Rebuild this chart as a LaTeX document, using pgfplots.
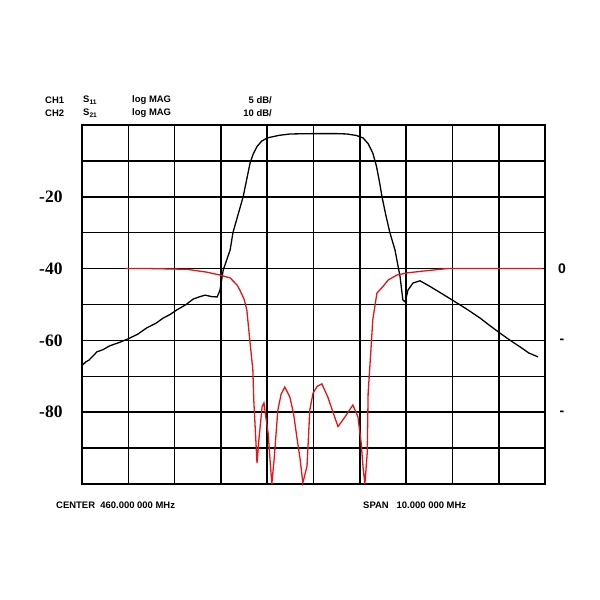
\documentclass[border=0pt]{standalone}
\usepackage{fontspec}
\setmainfont{Liberation Sans}
\newfontfamily\serifb{Liberation Serif}
\usepackage{pgfplots}
\pgfplotsset{compat=1.18}
\definecolor{trred}{RGB}{230,20,20}
\begin{document}
\begin{tikzpicture}
\useasboundingbox (-82bp,-116bp) rectangle (518bp,484bp);
\begin{axis}[
  at={(0,0)}, anchor=south west,
  scale only axis, width=463bp, height=359bp,
  xmin=0, xmax=10, ymin=-100, ymax=0,
  xtick={0,1,...,10}, ytick={-100,-90,...,0},
  xticklabels={},
  yticklabels={,,-80,,-60,,-40,,-20,,},
  yticklabel style={font=\serifb\bfseries\fontsize{17.5}{17.5}\selectfont, xshift=-16bp},
  major tick length=0pt,
  grid=major,
  major grid style={black, line width=1.6pt},
  axis line style={black, line width=1.6pt},
  clip=false,
]
\addplot[black, line width=1.3pt] coordinates {
(0.00,-67.0) (0.08,-66.0) (0.15,-65.5) (0.25,-64.2) (0.32,-63.2) (0.45,-62.6) (0.60,-61.5) (0.80,-60.6) (0.99,-59.6)
(1.20,-58.3) (1.40,-56.5) (1.60,-55.2) (1.75,-53.8) (1.90,-52.8) (2.05,-51.5) (2.25,-50.0)
(2.40,-48.5) (2.55,-47.8) (2.66,-47.4) (2.80,-47.8) (2.92,-47.9) (2.98,-46.0) (3.05,-40.4)
(3.20,-34.8) (3.26,-30.0) (3.37,-25.0) (3.48,-20.0) (3.56,-15.0) (3.63,-10.6) (3.70,-8.0) (3.78,-6.0)
(3.88,-4.5) (4.00,-3.6) (4.25,-2.9) (4.49,-2.5) (5.00,-2.4) (5.50,-2.4) (5.72,-2.5) (5.92,-2.9)
(6.07,-3.6) (6.18,-5.2) (6.28,-7.8) (6.36,-11.5) (6.42,-15.5) (6.48,-20.0) (6.56,-25.0) (6.65,-30.0)
(6.76,-34.8) (6.87,-42.3) (6.93,-48.7) (6.98,-49.3) (7.04,-46.0) (7.15,-44.0) (7.30,-43.4)
(7.52,-45.0) (7.75,-46.8) (7.99,-48.7) (8.30,-51.2) (8.60,-53.8) (8.80,-55.8) (9.03,-58.0)
(9.25,-60.0) (9.46,-61.8) (9.65,-63.5) (9.85,-64.6)
};
\addplot[trred, line width=1.3pt] coordinates {
(0.93,-40.0) (1.50,-40.0) (2.27,-40.2) (2.70,-41.0) (2.98,-41.8) (3.20,-42.6) (3.35,-44.6)
(3.41,-46.0) (3.50,-48.5) (3.56,-51.5) (3.63,-60.7) (3.69,-68.2) (3.71,-76.6) (3.78,-94.2)
(3.82,-87.7) (3.89,-78.5) (3.93,-77.4) (3.97,-81.3) (4.02,-85.8) (4.06,-93.0) (4.10,-100.0)
(4.15,-93.0) (4.23,-79.4) (4.30,-75.0) (4.38,-73.0) (4.49,-75.8) (4.57,-80.5) (4.64,-86.9)
(4.71,-93.0) (4.77,-99.7) (4.86,-95.0) (4.92,-79.4) (4.99,-74.7) (5.08,-72.8) (5.18,-72.1)
(5.31,-75.8) (5.42,-80.0) (5.53,-84.0) (5.68,-81.3) (5.85,-78.0) (5.96,-81.3) (6.03,-88.6)
(6.07,-95.3) (6.11,-100.0) (6.16,-91.4) (6.18,-74.7) (6.24,-62.7) (6.28,-54.3) (6.37,-46.8)
(6.50,-45.0) (6.61,-43.2) (6.80,-41.8) (7.02,-41.2) (7.36,-40.7) (7.88,-40.0) (9.96,-40.0)
};
\end{axis}
\tikzset{hdr/.style={font=\bfseries\fontsize{9.5}{9.5}\selectfont, inner sep=0pt}}
\node[hdr, anchor=west] at (-37bp,384bp) {CH1};
\node[hdr, anchor=west] at (-37bp,371bp) {CH2};
\node[hdr, anchor=west] at (1bp,384bp) {S\textsubscript{11}};
\node[hdr, anchor=west] at (1bp,371bp) {S\textsubscript{21}};
\node[hdr, anchor=west] at (50bp,384bp) {log MAG};
\node[hdr, anchor=west] at (50bp,371bp) {log MAG};
\node[hdr, anchor=east] at (190bp,384bp) {5 dB/};
\node[hdr, anchor=east] at (190bp,371bp) {10 dB/};
\node[hdr, anchor=west] at (-26bp,-21bp) {CENTER\ \ 460.000 000 MHz};
\node[hdr, anchor=west] at (281bp,-21bp) {SPAN\ \ \ 10.000 000 MHz};
\node[font=\bfseries\fontsize{14}{14}\selectfont, inner sep=0pt] at (480bp,215bp) {0};
\node[font=\bfseries\fontsize{14}{14}\selectfont, inner sep=0pt] at (480bp,143bp) {-};
\node[font=\bfseries\fontsize{14}{14}\selectfont, inner sep=0pt] at (480bp,71bp) {-};
\end{tikzpicture}
\end{document}
